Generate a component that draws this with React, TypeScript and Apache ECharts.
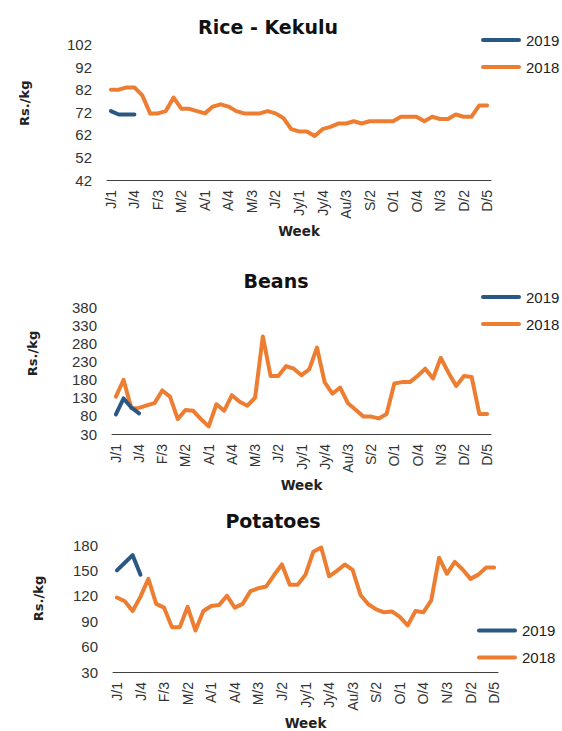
import React, { useEffect, useRef } from 'react';
import * as echarts from 'echarts';

const weeks: string[] = [
  'J/1', 'J/2', 'J/3', 'J/4',
  'F/1', 'F/2', 'F/3', 'F/4',
  'M/1', 'M/2', 'M/3', 'M/4',
  'A/1', 'A/2', 'A/3', 'A/4',
  'M/1', 'M/2', 'M/3', 'M/4',
  'J/1', 'J/2', 'J/3', 'J/4',
  'Jy/1', 'Jy/2', 'Jy/3', 'Jy/4',
  'Au/1', 'Au/2', 'Au/3', 'Au/4',
  'S/1', 'S/2', 'S/3', 'S/4',
  'O/1', 'O/2', 'O/3', 'O/4',
  'N/1', 'N/2', 'N/3', 'N/4',
  'D/1', 'D/2', 'D/3', 'D/4', 'D/5',
];

const titles = ['Rice - Kekulu', 'Beans', 'Potatoes'];
const seriesNames = ['2019', '2018'];

const rice2019 = [72.5, 71, 71, 71];
const rice2018 = [
  82, 82, 83, 83, 79.5, 71.5, 71.5, 72.5, 78.5, 73.5,
  73.5, 72.5, 71.5, 74.5, 75.5, 74.5, 72.5, 71.5, 71.5, 71.5,
  72.5, 71.5, 69.5, 64.5, 63.5, 63.5, 61.5, 64.5, 65.5, 67,
  67, 68, 67, 68, 68, 68, 68, 70, 70, 70,
  68, 70, 69, 69, 71, 70, 70, 75, 75,
];
const riceTicks = [42, 52, 62, 72, 82, 92, 102];

const beans2019 = [84, 128, 103, 87];
const beans2018 = [
  133, 179, 101, 102, 109, 115, 150, 133, 71, 96,
  94, 71, 51, 112, 94, 137, 119, 108, 130, 299,
  190, 190, 217, 210, 192, 208, 268, 172, 141, 158,
  115, 97, 78, 78, 73, 85, 169, 173, 173, 190,
  210, 183, 240, 199, 162, 190, 187, 85, 85,
];
const beansTicks = [30, 80, 130, 180, 230, 280, 330, 380];

const potatoes2019 = [150, 159, 168, 145];
const potatoes2018 = [
  118, 113.5, 102, 119, 140, 110.5, 106, 83, 83, 107,
  79, 102, 108, 109, 120, 106, 110.5, 125.5, 129, 131,
  144.5, 157, 133, 133, 145, 172, 177, 143, 149.5, 157,
  150.5, 121, 110, 104, 100.5, 101.5, 95, 85, 102, 100.5,
  114.5, 165, 146, 160, 151, 140, 145, 153.5, 153.5,
];
const potatoesTicks = [30, 60, 90, 120, 150, 180];

const FONT = "'Liberation Sans', Arial, sans-serif";
const BOLD_FONT = "'DejaVu Sans', 'Liberation Sans', sans-serif";
const BLUE = '#2A5885';
const ORANGE = '#ED7D31';
const CAPSULE = 'path://M2,0 L38,0 A2,2 0 0 1 38,4 L2,4 A2,2 0 0 1 2,0 Z';

const panels = [
  {
    title: titles[0], d2019: rice2019, d2018: rice2018, ticks: riceTicks,
    grid: { left: 107, right: 71, top: 44.5, height: 135.5 },
    titleX: 268, titleY: 17, nameGap: 76, namePad: 18, legendLeft: 481, legendTop: 32.5,
  },
  {
    title: titles[1], d2019: beans2019, d2018: beans2018, ticks: beansTicks,
    grid: { left: 112, right: 71, top: 307, height: 127 },
    titleX: 276, titleY: 271.5, nameGap: 73, namePad: 34, legendLeft: 481, legendTop: 289.5,
  },
  {
    title: titles[2], d2019: potatoes2019, d2018: potatoes2018, ticks: potatoesTicks,
    grid: { left: 113, right: 64, top: 545, height: 132 },
    titleX: 273, titleY: 511.5, nameGap: 68, namePad: 20, legendLeft: 477, legendTop: 623,
  },
];

function buildOption() {
  const grid: any[] = [];
  const xAxis: any[] = [];
  const yAxis: any[] = [];
  const series: any[] = [];
  const title: any[] = [];
  const legend: any[] = [];
  panels.forEach((p, i) => {
    grid.push({ ...p.grid, containLabel: false });
    title.push({
      text: p.title,
      left: p.titleX,
      top: p.titleY,
      textAlign: 'center',
      padding: 0,
      textStyle: { fontFamily: BOLD_FONT, fontSize: 19, fontWeight: 'bold', color: '#111' },
    });
    legend.push({
      orient: 'vertical',
      left: p.legendLeft,
      top: p.legendTop,
      padding: 0,
      itemWidth: 40,
      itemHeight: 4,
      itemGap: 12,
      icon: CAPSULE,
      data: seriesNames,
      textStyle: { fontFamily: FONT, fontSize: 15, color: '#222' },
    });
    xAxis.push({
      gridIndex: i,
      type: 'category',
      data: weeks,
      boundaryGap: true,
      axisLine: { lineStyle: { color: '#404040', width: 1 } },
      axisTick: { show: false },
      axisLabel: { interval: 2, rotate: 90, fontSize: 14, margin: 10, color: '#333', fontFamily: FONT },
      name: 'Week',
      nameLocation: 'middle',
      nameGap: 44,
      nameTextStyle: { fontFamily: BOLD_FONT, fontWeight: 'bold', fontSize: 13.5, color: '#222' },
    });
    yAxis.push({
      gridIndex: i,
      type: 'value',
      min: p.ticks[0],
      max: p.ticks[p.ticks.length - 1],
      axisLine: { show: false },
      axisTick: { show: false },
      splitLine: { show: false },
      axisLabel: { customValues: p.ticks, fontSize: 15, margin: 15, color: '#333', fontFamily: FONT },
      name: 'Rs./kg',
      nameLocation: 'middle',
      nameGap: p.nameGap,
      nameTextStyle: {
        fontFamily: BOLD_FONT, fontWeight: 'bold', fontSize: 13, color: '#222',
        padding: [0, 0, 0, p.namePad],
      },
    });
    series.push({
      name: '2018', type: 'line', xAxisIndex: i, yAxisIndex: i, data: p.d2018,
      symbol: 'none', color: ORANGE,
      lineStyle: { width: 4, color: ORANGE, cap: 'round', join: 'round' },
    });
    series.push({
      name: '2019', type: 'line', xAxisIndex: i, yAxisIndex: i, data: p.d2019,
      symbol: 'none', color: BLUE,
      lineStyle: { width: 4, color: BLUE, cap: 'round', join: 'round' },
    });
  });
  return { animation: false, backgroundColor: '#fff', title, legend, grid, xAxis, yAxis, series };
}

export default function App() {
  const ref = useRef<HTMLDivElement>(null);
  useEffect(() => {
    const chart = echarts.init(ref.current!, null, { renderer: 'svg' });
    chart.setOption(buildOption() as any);
    return () => chart.dispose();
  }, []);
  return (
    <div
      ref={ref}
      style={{ position: 'absolute', left: 0, top: 0, width: 562, height: 731 }}
    />
  );
}
